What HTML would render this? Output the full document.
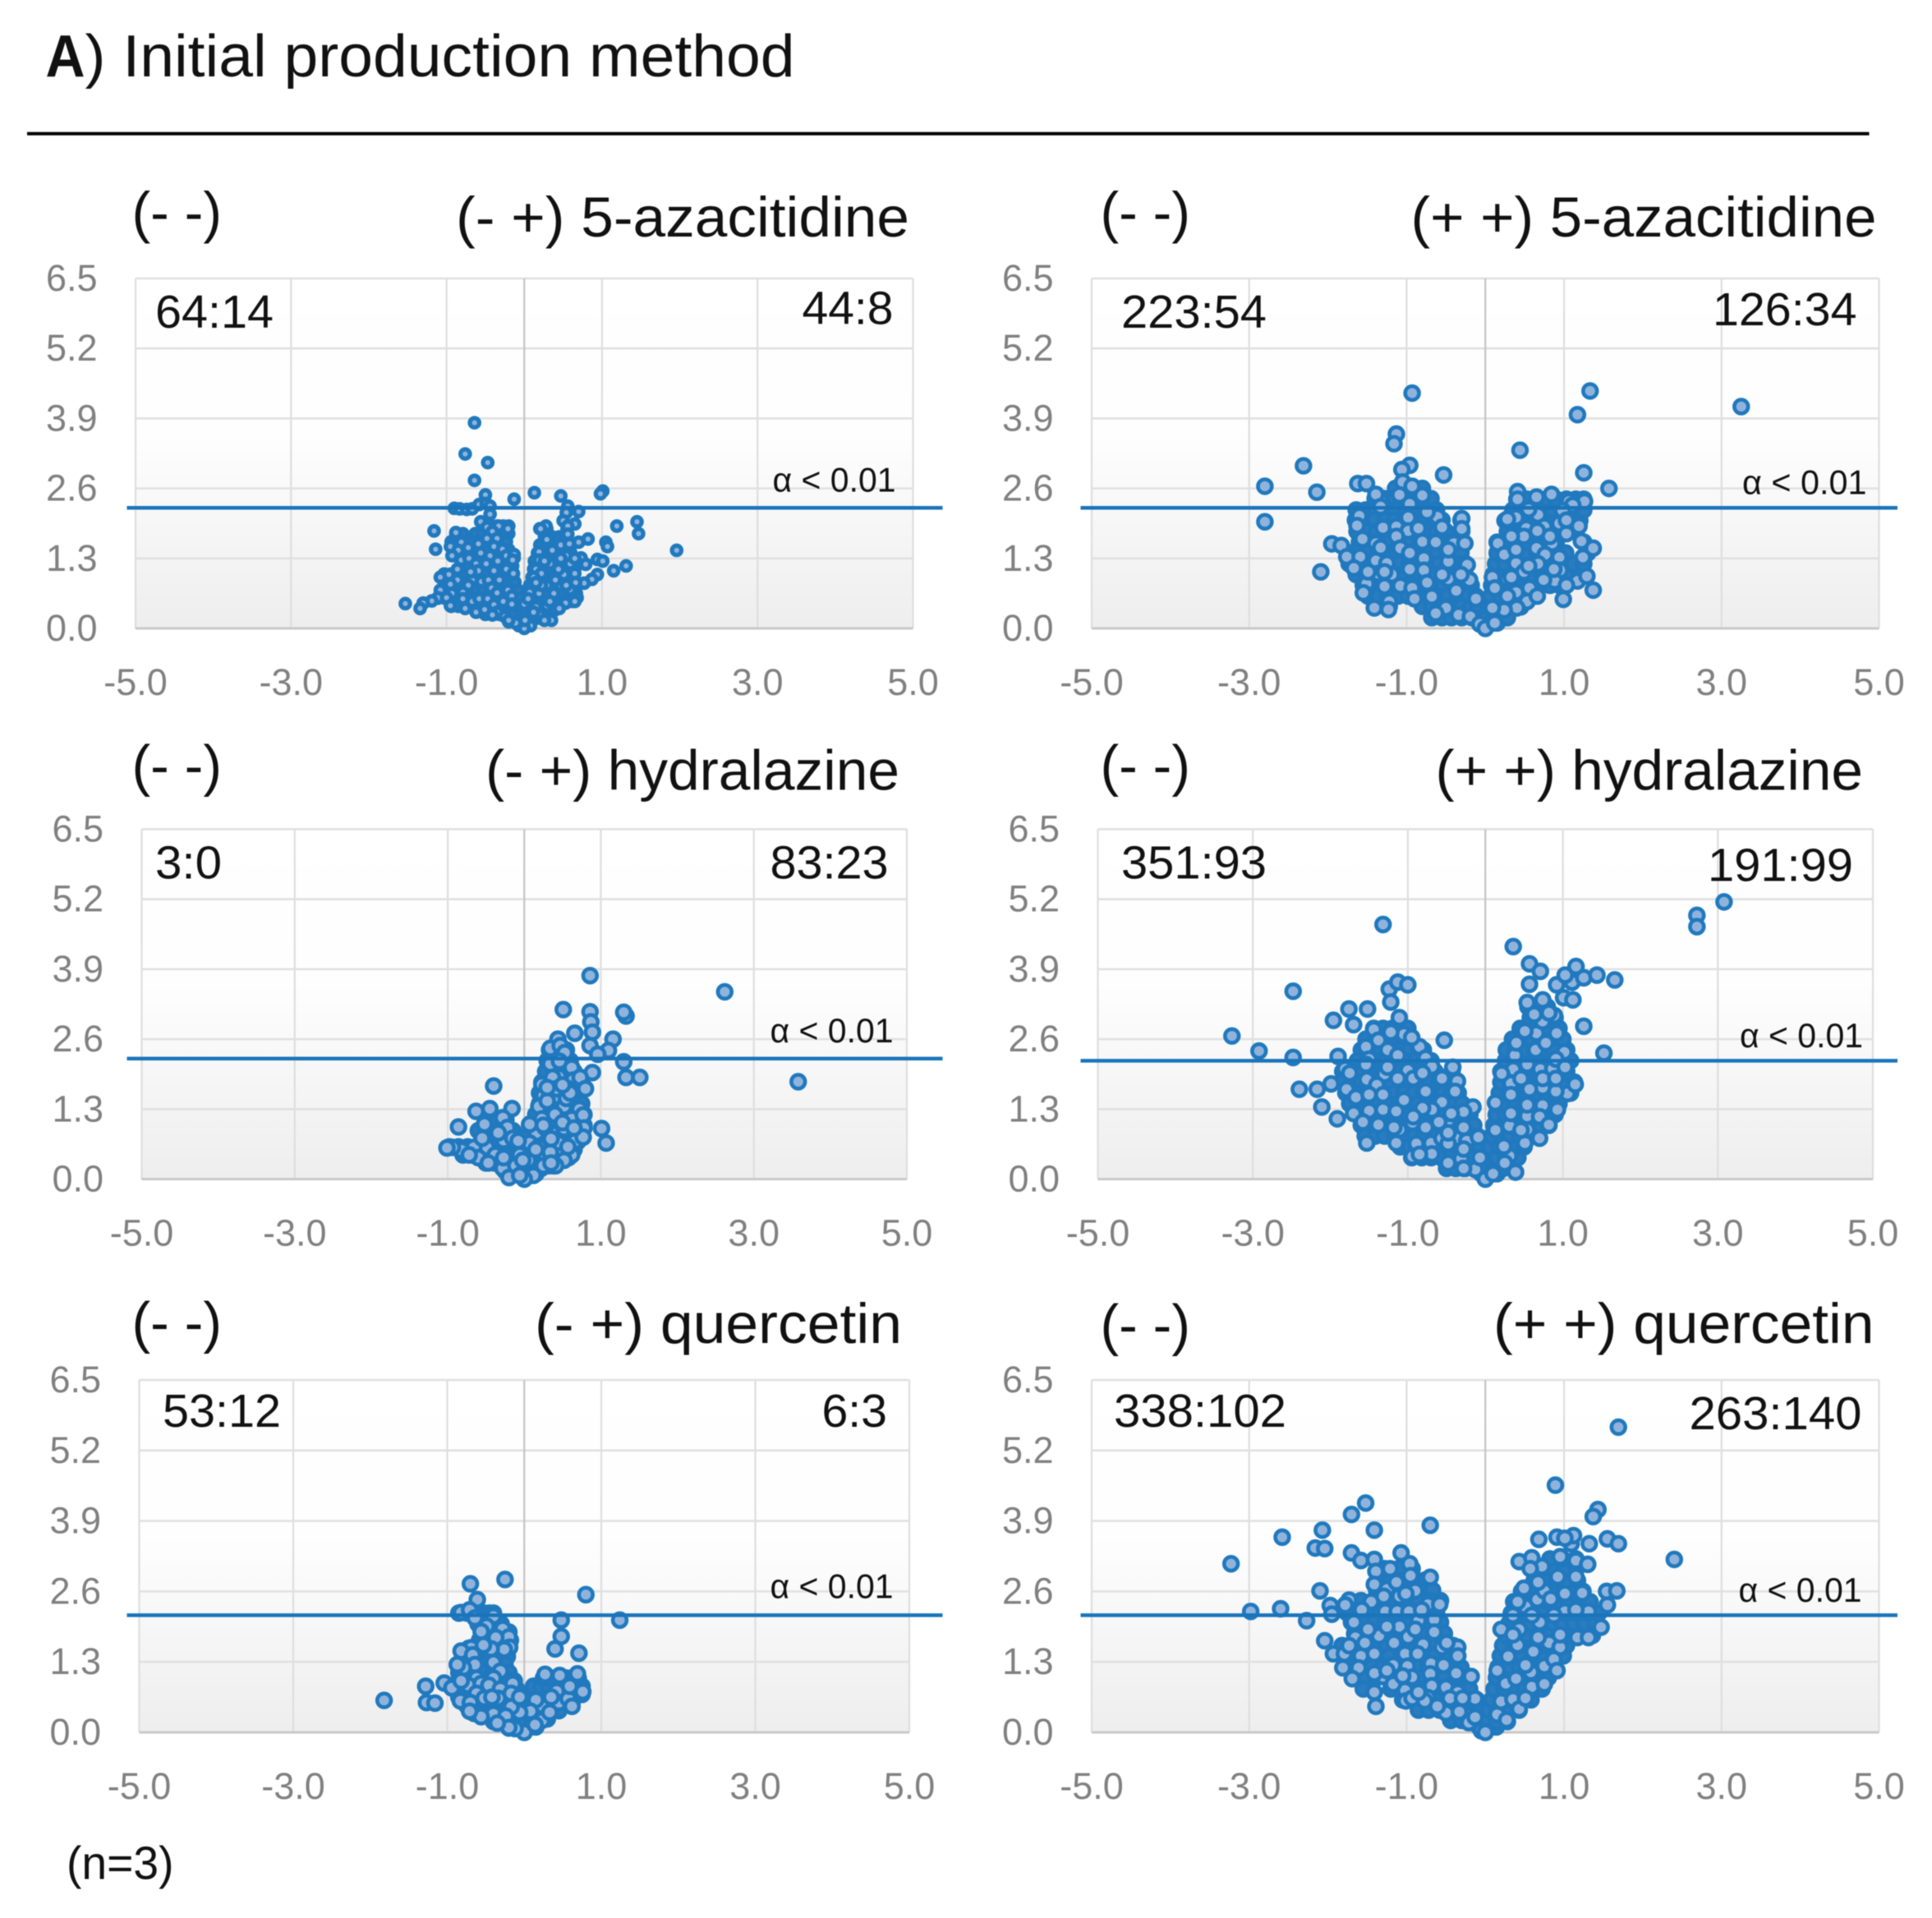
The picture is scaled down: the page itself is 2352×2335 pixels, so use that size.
<!DOCTYPE html>
<html lang="en">
<head>
<meta charset="utf-8">
<title>A) Initial production method – volcano plots</title>
<style>
html,body{margin:0;padding:0;background:#fff;}
svg{display:block;filter:blur(0.6px);}
text{font-family:"Liberation Sans",sans-serif;}
.head{font-size:46px;fill:#111;}
.count{font-size:38px;fill:#111;}
.alpha{font-size:28px;fill:#111;}
.tick{font-size:30px;fill:#808080;}
</style>
</head>
<body>
<svg id="figure" xmlns="http://www.w3.org/2000/svg" width="2352" height="2335" viewBox="0 0 1568 1556.67">
  <defs>
    <linearGradient id="plotBg" x1="0" y1="0" x2="0" y2="1">
      <stop offset="0" stop-color="#ffffff"/>
      <stop offset="0.45" stop-color="#fefefe"/>
      <stop offset="1" stop-color="#eeeeee"/>
    </linearGradient>
  </defs>
  <rect width="1568" height="1556.67" fill="#ffffff"/>

  <text x="37" y="62" font-size="48" font-weight="bold" fill="#111" textLength="32" lengthAdjust="spacingAndGlyphs">A</text>
  <text x="69" y="62" font-size="48" fill="#111" textLength="576" lengthAdjust="spacingAndGlyphs">) Initial production method</text>
  <line x1="22" y1="108.5" x2="1517" y2="108.5" stroke="#000" stroke-width="2.6"/>

  <g id="panel-0"></g>
  <g id="panel-1"></g>
  <g id="panel-2"></g>
  <g id="panel-3"></g>
  <g id="panel-4"></g>
  <g id="panel-5"></g>

  <g>
    <text class="head" x="107" y="188" textLength="73" lengthAdjust="spacingAndGlyphs">(- -)</text>
    <text class="head" x="370" y="192" textLength="368" lengthAdjust="spacingAndGlyphs">(- +) 5-azacitidine</text>
    <text class="count" x="126" y="266" textLength="96" lengthAdjust="spacingAndGlyphs">64:14</text>
    <text class="count" x="651" y="263" textLength="74" lengthAdjust="spacingAndGlyphs">44:8</text>
    <text class="alpha" x="627" y="399" textLength="100" lengthAdjust="spacingAndGlyphs">α &lt; 0.01</text>

    <text class="head" x="893" y="188" textLength="73" lengthAdjust="spacingAndGlyphs">(- -)</text>
    <text class="head" x="1145" y="192" textLength="378" lengthAdjust="spacingAndGlyphs">(+ +) 5-azacitidine</text>
    <text class="count" x="910" y="266" textLength="118" lengthAdjust="spacingAndGlyphs">223:54</text>
    <text class="count" x="1390" y="264" textLength="117" lengthAdjust="spacingAndGlyphs">126:34</text>
    <text class="alpha" x="1414" y="401" textLength="101" lengthAdjust="spacingAndGlyphs">α &lt; 0.01</text>

    <text class="head" x="107" y="637" textLength="73" lengthAdjust="spacingAndGlyphs">(- -)</text>
    <text class="head" x="394" y="641" textLength="336" lengthAdjust="spacingAndGlyphs">(- +) hydralazine</text>
    <text class="count" x="126" y="713" textLength="54" lengthAdjust="spacingAndGlyphs">3:0</text>
    <text class="count" x="625" y="713" textLength="96" lengthAdjust="spacingAndGlyphs">83:23</text>
    <text class="alpha" x="625" y="846" textLength="100" lengthAdjust="spacingAndGlyphs">α &lt; 0.01</text>

    <text class="head" x="893" y="637" textLength="73" lengthAdjust="spacingAndGlyphs">(- -)</text>
    <text class="head" x="1165" y="641" textLength="347" lengthAdjust="spacingAndGlyphs">(+ +) hydralazine</text>
    <text class="count" x="910" y="713" textLength="118" lengthAdjust="spacingAndGlyphs">351:93</text>
    <text class="count" x="1386" y="715" textLength="118" lengthAdjust="spacingAndGlyphs">191:99</text>
    <text class="alpha" x="1412" y="850" textLength="100" lengthAdjust="spacingAndGlyphs">α &lt; 0.01</text>

    <text class="head" x="107" y="1089" textLength="73" lengthAdjust="spacingAndGlyphs">(- -)</text>
    <text class="head" x="434" y="1090" textLength="298" lengthAdjust="spacingAndGlyphs">(- +) quercetin</text>
    <text class="count" x="132" y="1158" textLength="96" lengthAdjust="spacingAndGlyphs">53:12</text>
    <text class="count" x="667" y="1158" textLength="53" lengthAdjust="spacingAndGlyphs">6:3</text>
    <text class="alpha" x="625" y="1297" textLength="100" lengthAdjust="spacingAndGlyphs">α &lt; 0.01</text>

    <text class="head" x="893" y="1091" textLength="73" lengthAdjust="spacingAndGlyphs">(- -)</text>
    <text class="head" x="1212" y="1090" textLength="309" lengthAdjust="spacingAndGlyphs">(+ +) quercetin</text>
    <text class="count" x="904" y="1158" textLength="140" lengthAdjust="spacingAndGlyphs">338:102</text>
    <text class="count" x="1371" y="1160" textLength="140" lengthAdjust="spacingAndGlyphs">263:140</text>
    <text class="alpha" x="1411" y="1300" textLength="100" lengthAdjust="spacingAndGlyphs">α &lt; 0.01</text>

    <text class="count" x="54" y="1525" textLength="87" lengthAdjust="spacingAndGlyphs">(n=3)</text>
  </g>
</svg>

<script>
const xTickValues = [-5, -3, -1, 1, 3, 5];
const xTickLabels = ["-5.0", "-3.0", "-1.0", "1.0", "3.0", "5.0"];
const yTickValues = [0, 1.3, 2.6, 3.9, 5.2, 6.5];
const yTickLabels = ["0.0", "1.3", "2.6", "3.9", "5.2", "6.5"];
const thresholds = [2.24, 2.24, 2.24, 2.2, 2.16, 2.16];

/* Dense core of each volcano read row by row: [y, [x, x, ...]] */
const azaMinusRows = [
[1.9,[-.53,-.44,-.35,-.27,-.2]],
[1.76,[-.88,-.79,-.63,-.54,-.45,-.36,-.27,-.2]],
[1.61,[-.94,-.85,-.76,-.67,-.58,-.49,-.4,-.31,-.23]],
[1.46,[-.92,-.83,-.74,-.65,-.56,-.47,-.38,-.29,-.2]],
[1.31,[-.84,-.75,-.66,-.57,-.48,-.39,-.3,-.21,-.13]],
[1.16,[-.79,-.7,-.61,-.52,-.43,-.34,-.25,-.15]],
[1.01,[-1.03,-.94,-.85,-.76,-.67,-.58,-.49,-.4,-.31,-.22,-.14]],
[.86,[-1,-.91,-.82,-.73,-.64,-.55,-.46,-.37,-.28,-.19,-.12]],
[.71,[-1.07,-.98,-.89,-.8,-.71,-.62,-.53,-.44,-.35,-.26,-.17,-.08]],
[.56,[-1.11,-1.02,-.93,-.84,-.75,-.66,-.57,-.48,-.39,-.3,-.21,-.12,-.05]],
[.41,[-.94,-.85,-.76,-.67,-.58,-.49,-.4,-.31,-.22,-.13,-.04]],
[.26,[-.5,-.41,-.32,-.23,-.14,-.04]],
[.12,[-.2,-.12,-.04]],
[.05,[-.07,0,.08]],
[.19,[0,.09,.18,.29]],
[.34,[.01,.1,.19,.28,.39]],
[.5,[.02,.11,.2,.29,.38,.47,.56,.62]],
[.65,[.04,.13,.22,.31,.4,.49,.58,.67]],
[.8,[.07,.16,.25,.34,.43,.52,.61,.68]],
[.95,[.1,.19,.28,.37,.46,.55,.64]],
[1.1,[.12,.21,.3,.39,.48,.57,.65]],
[1.25,[.13,.22,.31,.4,.49,.6]],
[1.4,[.17,.26,.35,.44,.53,.6]],
[1.55,[.2,.29,.38,.47,.6]],
[1.7,[.26,.36,.45,.52]],
[1.85,[.2,.29,.55]]
];

const azaPlusRows = [
[2.6,[-1.14,-1.02,-.9,-.8]],
[2.41,[-1.4,-1.28,-1.15,-1.03,-.9,-.78,-.69]],
[2.2,[-1.64,-1.52,-1.39,-1.27,-1.14,-1.01,-.89,-.76,-.62]],
[2.01,[-1.65,-1.53,-1.4,-1.27,-1.15,-1.02,-.9,-.77,-.65,-.55,-.31]],
[1.8,[-1.63,-1.51,-1.38,-1.25,-1.13,-1,-.88,-.75,-.62,-.5,-.3]],
[1.6,[-1.6,-1.47,-1.35,-1.22,-1.09,-.97,-.84,-.71,-.59,-.46,-.35]],
[1.41,[-1.75,-1.62,-1.5,-1.37,-1.24,-1.12,-.99,-.86,-.74,-.61,-.48,-.31]],
[1.2,[-1.73,-1.61,-1.48,-1.35,-1.23,-1.1,-.97,-.85,-.72,-.59,-.47,-.35,-.25]],
[1,[-1.64,-1.52,-1.39,-1.26,-1.14,-1.01,-.88,-.76,-.63,-.5,-.38,-.26]],
[.8,[-1.55,-1.42,-1.3,-1.17,-1.04,-.92,-.79,-.66,-.54,-.41,-.29,-.18]],
[.6,[-1.49,-1.36,-1.24,-1.11,-.98,-.86,-.73,-.6,-.48,-.35,-.23,-.12]],
[.41,[-1.22,-.8,-.68,-.55,-.43,-.3,-.18,-.1]],
[.2,[-.68,-.55,-.43,-.3,-.17,-.05]],
[.1,[-.05,.06,.15]],
[.2,[0,.11,.22,.28]],
[.4,[.04,.15,.27,.39,.45]],
[.6,[.07,.19,.31,.43,.55,.6]],
[.8,[.08,.2,.33,.45,.57,.7,.82,.94,1]],
[1,[.1,.23,.35,.47,.6,.72,.84,.97,1.09,1.2]],
[1.2,[.13,.25,.38,.5,.62,.75,.87,.99,1.12,1.25]],
[1.4,[.15,.28,.4,.52,.65,.77,.89,1.02,1.3]],
[1.6,[.15,.28,.41,.53,.66,.78,.9,1.25]],
[1.8,[.28,.41,.53,.66,.78,.91,1.03,1.15]],
[2,[.25,.38,.5,.63,.75,.88,1,1.12,1.2]],
[2.2,[.35,.47,.6,.72,.85,.97,1.1,1.25]],
[2.4,[.4,.53,.65,.78,.9,1.03,1.15,1.25]]
];

const hydMinusRows = [
[1.1,[-.35,-.24]],
[.9,[-.6,-.48,-.36,-.25,-.15]],
[.75,[-.55,-.43,-.32,-.22,-.12]],
[.6,[-.98,-.86,-.74,-.62,-.5,-.39,-.28,-.17,-.07]],
[.45,[-.8,-.68,-.57,-.46,-.35,-.24,-.13,-.05]],
[.3,[-.5,-.39,-.28,-.17,-.06,-.03]],
[.15,[-.25,-.14,-.03]],
[.1,[-.05,.06,.15]],
[.25,[0,.1,.21,.32,.38]],
[.4,[.02,.13,.24,.35,.46,.58]],
[.55,[.03,.14,.25,.36,.47,.58,.65]],
[.7,[.05,.16,.27,.38,.49,.6,.7]],
[.85,[.06,.17,.28,.39,.5,.61,.75]],
[1,[.07,.18,.29,.4,.51,.62,.78]],
[1.2,[.15,.26,.37,.48,.59,.78]],
[1.4,[.2,.31,.42,.53,.64,.75]],
[1.6,[.2,.31,.42,.53,.65]],
[1.8,[.23,.34,.45,.56,.67,.75]],
[2,[.28,.39,.5,.6,.65]],
[2.2,[.3,.41,.52,.6]],
[2.4,[.33,.44,.55]]
];

const hydPlusRows = [
[2.8,[-1.44,-1.32,-1.2,-1.08,-1]],
[2.6,[-1.54,-1.42,-1.3,-1.18,-1.06,-.95]],
[2.4,[-1.6,-1.48,-1.35,-1.23,-1.1,-.98,-.86,-.8]],
[2.2,[-1.65,-1.53,-1.4,-1.28,-1.15,-1.03,-.9,-.79,-.7]],
[2,[-1.84,-1.72,-1.59,-1.46,-1.34,-1.21,-1.09,-.96,-.84,-.72,-.65,-.43]],
[1.8,[-1.85,-1.72,-1.6,-1.47,-1.35,-1.22,-1.1,-.97,-.85,-.72,-.6,-.5,-.4]],
[1.6,[-1.8,-1.67,-1.55,-1.42,-1.3,-1.17,-1.05,-.92,-.8,-.67,-.55,-.44,-.35]],
[1.4,[-1.75,-1.62,-1.5,-1.37,-1.25,-1.12,-1,-.87,-.75,-.62,-.5,-.4,-.3]],
[1.2,[-1.65,-1.53,-1.4,-1.28,-1.15,-1.03,-.9,-.78,-.65,-.53,-.42,-.3,-.2]],
[1,[-1.6,-1.47,-1.35,-1.22,-1.1,-.97,-.85,-.72,-.6,-.47,-.35,-.25,-.15]],
[.8,[-1.55,-1.42,-1.3,-1.17,-1.05,-.92,-.8,-.67,-.55,-.42,-.3,-.2,-.1]],
[.6,[-1.1,-.97,-.85,-.72,-.6,-.47,-.35,-.22,-.14,-.07]],
[.4,[-.95,-.82,-.7,-.57,-.45,-.32,-.2,-.05]],
[.2,[-.5,-.38,-.26,-.14,-.03]],
[.1,[-.05,.06,.15]],
[.2,[0,.11,.23,.35]],
[.4,[.03,.15,.27,.42]],
[.6,[.06,.18,.3,.42,.5]],
[.8,[.08,.2,.32,.44,.6]],
[1,[.11,.23,.35,.47,.59,.71,.82]],
[1.2,[.14,.26,.38,.5,.62,.74,.9]],
[1.4,[.14,.26,.38,.5,.62,.74,.86,.95]],
[1.6,[.18,.3,.42,.54,.66,.78,.9,1.1]],
[1.8,[.2,.32,.44,.56,.68,.8,.92,1.04,1.15]],
[2,[.2,.32,.44,.56,.68,.8,.92,1.05]],
[2.2,[.26,.38,.5,.62,.74,.86,.98,1.1]],
[2.4,[.27,.39,.51,.63,.75,.87,1.05]],
[2.6,[.35,.47,.59,.71,.83,1]],
[2.8,[.45,.57,.69,.81,.95]],
[3,[.58,.7,.82,.9]],
[3.2,[.55,.67,.8]]
];

const querMinusRows = [
[2.2,[-.85,-.74,-.63,-.52,-.45,-.4]],
[2,[-.6,-.49,-.38,-.3]],
[1.85,[-.5,-.4,-.3,-.2]],
[1.7,[-.58,-.47,-.36,-.25,-.18]],
[1.55,[-.72,-.61,-.5,-.39,-.28,-.2]],
[1.4,[-.78,-.67,-.56,-.45,-.34,-.22]],
[1.25,[-.85,-.74,-.63,-.52,-.41,-.3,-.25]],
[1.1,[-.85,-.74,-.63,-.52,-.41,-.3,-.2]],
[.95,[-.85,-.74,-.63,-.52,-.41,-.3,-.2,-.13]],
[.8,[-.85,-.74,-.63,-.52,-.41,-.3,-.2,-.1]],
[.65,[-.85,-.74,-.63,-.52,-.41,-.3,-.2,-.12,-.06]],
[.5,[-.75,-.64,-.53,-.42,-.31,-.2,-.1,-.04]],
[.35,[-.65,-.54,-.43,-.32,-.21,-.1,-.03]],
[.2,[-.4,-.29,-.18,-.08,-.02]],
[.08,[-.2,-.1,0]],
[.1,[0,.08,.15]],
[.25,[0,.1,.2,.3]],
[.4,[.03,.13,.23,.33,.45]],
[.55,[.05,.15,.25,.35,.45,.55,.62]],
[.7,[.08,.18,.28,.38,.48,.58,.68,.75]],
[.85,[.12,.22,.32,.42,.52,.62,.75]],
[1,[.25,.35,.45,.55,.7]]
];

const querPlusRows = [
[3.02,[-1.28,-1.1,-.93]],
[2.81,[-1.36,-1.2,-1.04,-.88,-.76]],
[2.62,[-1.38,-1.22,-1.08,-.93,-.8,-.67]],
[2.43,[-1.72,-1.58,-1.42,-1.27,-1.14,-.99,-.85,-.7,-.57]],
[2.21,[-1.76,-1.61,-1.47,-1.33,-1.18,-1.05,-.9,-.76,-.62]],
[2.03,[-1.7,-1.55,-1.41,-1.28,-1.13,-.98,-.84,-.71,-.57]],
[1.82,[-1.66,-1.52,-1.37,-1.22,-1.08,-.95,-.8,-.66,-.52]],
[1.6,[-1.82,-1.68,-1.53,-1.4,-1.25,-1.1,-.96,-.82,-.68,-.54,-.41]],
[1.41,[-1.8,-1.66,-1.5,-1.37,-1.22,-1.07,-.93,-.8,-.65,-.5,-.36]],
[1.2,[-1.72,-1.58,-1.44,-1.3,-1.15,-1,-.87,-.73,-.59,-.45,-.31]],
[1.01,[-1.66,-1.52,-1.38,-1.23,-1.09,-.95,-.8,-.66,-.52,-.37,-.22]],
[.8,[-1.55,-1.2,-1.06,-.92,-.78,-.63,-.5,-.35,-.2]],
[.6,[-1.05,-.9,-.76,-.62,-.48,-.34,-.2,-.11]],
[.41,[-.85,-.72,-.58,-.44,-.3,-.17,-.08]],
[.22,[-.44,-.3,-.17,-.05]],
[.1,[-.08,.04,.14]],
[.2,[.02,.14,.28]],
[.41,[.04,.16,.29,.43]],
[.6,[.08,.2,.33,.46,.58]],
[.8,[.11,.24,.37,.5,.62,.72]],
[1.01,[.14,.27,.41,.54,.67,.8]],
[1.2,[.16,.3,.44,.58,.72,.88]],
[1.41,[.19,.33,.47,.6,.74,.87,.99]],
[1.6,[.22,.36,.5,.63,.77,.9,1.03]],
[1.79,[.26,.4,.53,.67,.8,.94,1.08,1.22,1.36]],
[2.01,[.3,.44,.58,.71,.85,.98,1.12,1.26,1.4]],
[2.2,[.33,.47,.6,.74,.88,1.02,1.16,1.3,1.44]],
[2.41,[.36,.5,.64,.78,.91,1.05,1.19,1.33]],
[2.6,[.46,.6,.73,.87,1,1.14,1.24]],
[2.8,[.62,.76,.9,1.03,1.17]],
[3.01,[.72,.86,1,1.15]],
[3.2,[.82,.98,1.15]]
];

/* Individually read points (outliers and visible marker centres): [x, y] */
const azaMinusPoints = [
[-.64,3.82],[-.76,3.24],[-.47,3.08],[-.64,2.75],[-.5,2.48],[-.13,2.4],[.13,2.52],[.47,2.46],[1.01,2.55],[.98,2.5],
[-.9,2.23],[-.83,2.22],[-.74,2.21],[-.67,2.22],[-.58,2.3],[-.49,2.32],[-.44,2.27],[-.44,2.12],[.56,2.27],[.7,2.17],
[.54,2.15],[.5,2],[.65,1.94],[.56,1.9],[.56,1.75],[1.19,1.9],[1.45,1.98],[1.47,1.76],[1.96,1.45],[1.05,1.6],[1.07,1.52],
[.82,1.66],[.7,1.6],[.73,1.31],[.94,1.28],[1.01,1.25],[.79,1.19],[1.31,1.16],[1.15,1.07],[.94,1],[.87,.91],[.77,.84],
[.68,.57],[.65,.5],[.28,1.9],[.21,1.85],[.29,1.65],[.47,1.55],[.58,1.57],[.19,1.42],[.19,1.27],[.42,1.37],[.59,1.2],
[.33,1.2],[.15,1.1],[.22,1.02],[.51,1],[.65,1.02],[.12,.95],[.29,.8],[.47,.8],[.66,.85],[.59,.72],[.07,.67],[.19,.65],
[.38,.65],[.53,.47],[.29,.42],[.15,.4],[.45,.37],[0,.45],[.19,.25],[.35,.15],[.08,.05],[0,0],[-.09,.1],[.01,.15],[.26,.15],
[.12,.3],[.05,.55],[.33,.5],[.44,1.1],[.54,.8],[.4,.9],[.22,.8],[.54,1.35],[.65,1.3],[.15,.85],[.26,1.25],[.36,1.45],[.47,1.3],
[-1.16,1.81],[-1.14,1.47],[-.56,1.98],[-.48,1.88],[-.33,1.9],[-.21,1.85],[-.41,1.8],[-.88,1.78],[-.81,1.6],[-.72,1.5],
[-.59,1.57],[-.48,1.67],[-.35,1.67],[-.39,1.52],[-.28,1.47],[-.95,1.52],[-.85,1.45],[-.93,1.35],[-.81,1.27],[-.71,1.3],
[-.56,1.4],[-.44,1.35],[-.23,1.35],[-.13,1.37],[-.15,1.27],[-.62,1.2],[-.49,1.2],[-.34,1.25],[-.72,1.12],[-.59,1.07],
[-.39,1.07],[-.23,1.1],[-.14,1.02],[-.97,1],[-1.08,.95],[-.67,.9],[-.55,.87],[-.46,.9],[-.32,.9],[-.86,.9],[-.95,.82],
[-.72,.8],[-.42,.75],[-.21,.71],[-1.08,.71],[-.93,.65],[-.79,.67],[-.35,.66],[-.16,.6],[-1.11,.57],[-1,.57],[-.79,.55],
[-.67,.5],[-.58,.55],[-.47,.55],[-.27,.5],[-.39,.44],[-.16,.45],[-.95,.42],[-1.19,.51],[-1.3,.47],[-1.34,.37],[-1.53,.46],
[-.62,.3],[-.35,.3],[-.76,.37],[-.51,.35],[-.25,.22],[-.11,.1],[-.2,.15],[-.41,.25],[-.69,1.05],[-.86,1.1]
];

const azaPlusPoints = [
[-.93,4.37],[1.33,4.41],[1.17,3.97],[3.25,4.12],[-1.13,3.61],[-1.16,3.43],[.44,3.31],[-.96,3.03],[-1.06,2.95],[-2.31,3.02],
[-.53,2.85],[1.25,2.89],[-2.8,2.64],[-2.14,2.53],[1.57,2.6],[-2.8,1.98],[-1.62,2.69],[-1.51,2.69],[-1.05,2.72],[-1.09,2.48],
[-.93,2.64],[-.8,2.47],[-1.33,2.36],[-1.39,2.49],[.41,2.54],[.41,2.4],[.65,2.44],[.84,2.49],[1.06,2.36],[1.26,2.36],[1.11,2.29],
[-.96,2.31],[-1.6,2.09],[-1.63,1.91],[-1.33,2.26],[-.98,2.06],[-.61,2.07],[-.74,2.16],[-.3,2.04],[-.3,1.85],[-.55,1.88],[-1.3,1.87],
[-1.13,1.89],[-.98,1.81],[-1.56,1.66],[-1.39,1.58],[-1.13,1.71],[-1.08,1.49],[-.8,1.61],[-.4,1.58],[-.26,1.58],[-1.95,1.57],[-1.83,1.54],
[-1.76,1.33],[-1.59,1.33],[-1.39,1.26],[-1.25,1.21],[-.78,1.3],[-.47,1.24],[-1.67,1.12],[-.78,1.08],[-1.36,1.02],[-1.19,1],[-2.09,1.05],
[-.47,.92],[-.23,1.18],[-.2,.9],[-1.51,.83],[-1.28,.78],[-1.08,.79],[-.93,.75],[-1.55,.66],[-1.22,.5],[-.68,.59],[-1.41,.38],[-1.23,.35],
[-.5,.38],[-.9,.55],[-.63,.28],[-.34,.25],[-.19,.22],[-.07,.08],[0,0],[-.12,.55],[-.37,.7],[-.55,1],[-.96,1.4],[-.63,1.6],[-.85,1.86],
[-.47,1.46],[-1.33,1.5],[-1.28,1.05],[-1.49,1.05],[-.74,.85],[-.31,1],[-.96,1.1],[.39,2.06],[.28,2.03],[.67,2.11],[.94,1.95],[.75,1.89],
[1.19,1.9],[.98,2.19],[.52,1.86],[.49,1.71],[.16,1.58],[1.22,1.62],[1.37,1.49],[.85,1.58],[.65,1.49],[1.24,1.32],[.24,1.37],[.76,1.37],
[.94,1.32],[.39,1.21],[.67,1.2],[.95,1.08],[.09,.95],[.28,.92],[.49,1.05],[.88,.88],[1.17,.88],[1.29,.97],[1.37,.71],[.56,.75],[.39,.67],
[.99,.54],[.53,.5],[.4,.38],[.24,.34],[.09,.38],[.12,.1],[.12,.75],[.39,1.46],[.55,1.16],[.74,.9],[.82,1.71],[1.03,1.76],[1.03,2.01],
[.87,1.1],[.33,.95],[.28,.6],[.66,.6],[1.03,.8],[.33,1.71],[.66,1.81],[.55,2.21]
];

const hydMinusPoints = [
[.86,3.78],[2.62,3.48],[3.58,1.81],[.51,3.15],[.86,3.11],[.87,2.92],[.89,2.73],[1.33,3.03],[1.3,3.1],[.66,2.71],[1.16,2.6],[.86,2.48],
[1.1,2.39],[.96,2.32],[1.3,2.18],[.89,1.98],[1.33,1.89],[1.51,1.89],[.44,2.6],[.34,2.43],[.47,2.48],[.53,2.35],[.34,2.14],[.46,2.19],
[.62,2.07],[.45,1.9],[.64,1.84],[.73,1.89],[.8,1.68],[.23,1.76],[.57,1.68],[.37,1.89],[.25,1.55],[.45,1.53],[.19,1.35],[.52,1.35],
[.72,1.3],[.36,1.22],[.23,1.12],[.62,1.12],[.77,1.19],[.16,.86],[.41,.84],[.52,.94],[.78,.95],[.07,1.02],[.27,.96],[1.01,.94],[1.07,.67],
[.67,.71],[.77,.78],[.45,.67],[.07,.67],[.19,.6],[.62,.45],[.46,.43],[.28,.43],[.52,.35],[.22,.2],[.12,.07],[0,0],[.41,.25],[.34,.5],
[.57,.6],[.05,.35],[-.06,.45],[-.15,.12],[-.28,.2],[-.27,.72],[-.49,.59],[-.66,.59],[-.82,.54],[-.94,.59],[-1.01,.58],[-.86,.97],[-.63,1.26],
[-.45,1.31],[-.16,1.31],[-.4,1.73],[-.28,1.14],[-.52,1.02],[-.22,.96],[-.15,.76],[-.55,.76],[-.34,.86],[-.38,.45],[-.6,.4],[-.72,.45],
[-.47,.3],[-.27,.4],[-.11,.25],[-.2,.03],[-.06,.07],[-.02,.35],[-.08,.71],[.3,1.45],[.4,1.2],[.55,1.5],[.25,1],[.35,.75],[.5,1.05],[.65,.95],
[.15,.55],[.25,.25],[.35,.3],[.6,1.6],[.42,1.68],[.3,1.7],[.5,1.75]
];

const hydPlusPoints = [
[3.08,5.15],[2.73,4.9],[2.73,4.69],[-1.32,4.73],[.36,4.32],[.57,4],[.71,3.86],[.57,3.62],[-2.48,3.49],[-3.27,2.66],[-2.92,2.38],[-2.48,2.26],
[-1.9,2.28],[-2.4,1.67],[-2.17,1.67],[-1.99,1.77],[-2.11,1.34],[-1.91,1.12],[-1.96,2.95],[-1.76,3.16],[-1.52,3.16],[-1.7,2.87],[-1.24,3.53],
[-1.13,3.66],[-1,3.61],[-1.22,3.29],[-1.11,3],[-1.44,2.78],[-1.38,2.58],[-1.05,2.69],[-1.22,2.73],[-1.54,2.46],[-1.26,2.4],[-.85,2.46],[-.53,2.58],
[-.95,2.63],[-.77,2.25],[-1.13,2.3],[-1.81,2.05],[-.69,2.09],[-.42,2.08],[-1.3,1.95],[-1,2.02],[-1.13,1.87],[-1.53,1.85],[-.56,1.87],[-.36,1.82],
[-1.4,1.75],[-1.79,1.67],[-.77,1.63],[-.39,1.63],[-1.32,1.57],[-1.67,1.52],[-1.05,1.47],[-.56,1.43],[-.16,1.34],[-1.32,1.29],[-1.15,1.26],[-.69,1.29],
[-.28,1.25],[-1.7,1.22],[-.48,1.09],[-.94,1.05],[-1.11,.92],[-1.53,.67],[-1.15,.67],[-.7,.67],[-.56,.76],[-.39,.76],[-.24,.71],[-.09,.78],[-.69,.47],
[-.94,.42],[-.31,.38],[-.13,.18],[0,0],[.1,.1],[.39,.13],[.31,.43],[.51,.67],[.24,.61],[.54,.92],[.31,.99],[.54,1.17],[.74,1.37],[.13,1.42],[.54,1.38],
[.93,1.29],[1.06,1.59],[1.16,1.76],[.91,1.63],[.74,1.7],[.57,1.67],[.33,1.78],[.36,2.04],[.21,1.96],[.71,2.04],[.87,2.05],[.38,2.3],[.4,2.53],[.65,2.4],
[1.02,2.36],[1.53,2.34],[1.27,2.84],[.92,2.71],[.66,2.71],[.51,2.75],[.74,2.93],[.89,3.04],[.63,3.06],[.54,3.28],[.74,3.33],[1.01,3.37],[1.13,3.33],
[.92,3.61],[1.12,3.66],[1.27,3.74],[1.44,3.79],[1.67,3.7],[1.17,3.95],[1.03,3.79],[.82,3.09],[.78,2.53],[.54,2.13],[.91,2.23],[1.03,2.08],[.74,1.87],
[.46,1.87],[.91,1.87],[.33,1.57],[.7,1.16],[.82,1.01],[.7,.76],[.13,.91],[.33,1.22],[.46,.91],[.25,.3],[-1.5,2.23],[-1.75,1.97],[-.93,1.87],[-.81,1.97],
[-.81,1.32],[-1.5,1.27],[-1.38,1.01],[-1.58,1.06],[-1.18,.96],[-.77,.96],[-.44,1.22],[-.28,.96],[-.89,.66],[-.48,.66],[-.85,.46],[-.48,.3],[-.28,.2],
[-.07,.4],[-.28,.56],[-.48,.86],[-1.26,2.08],[-1.5,1.57],[-.93,1.16],[-.6,1.06],[-1.54,2.13]
];

const querMinusPoints = [
[-1.82,.59],[-1.28,.85],[-1.27,.55],[-1.16,.54],[-1.04,.91],[-.94,.82],[-.83,.58],[-.7,2.74],[-.25,2.82],[-.61,2.45],[.8,2.54],[1.24,2.07],[.48,2.07],
[.48,1.77],[.4,1.54],[.71,1.46],[.69,1.08],[.27,1.07],[.46,1.05],[.76,.75],[.42,.76],[.24,.49],[.45,.55],[.57,.62],[.62,.48],[.23,.22],[.33,.37],[.15,.6],
[.08,.39],[0,0],[-.12,.07],[-.06,.37],[.14,.14],[.35,.65],[.59,.85],[-.82,2.21],[-.71,2.26],[-.64,2.11],[-.4,2.14],[-.49,1.96],[-.28,1.91],[-.2,1.76],
[-.56,1.86],[-.37,1.75],[-.19,1.57],[-.26,1.53],[-.43,1.54],[-.69,1.56],[-.82,1.5],[-.67,1.43],[-.53,1.61],[-.64,1.25],[-.4,1.29],[-.79,1.19],[-.87,1.25],
[-.31,1.13],[-.62,1],[-.4,1],[-.15,.9],[-.73,.87],[-.56,.9],[-.46,.87],[-.31,.8],[-.82,.95],[-.62,.72],[-.52,.63],[-.34,.63],[-.17,.72],[-.7,.55],[-.17,.47],
[-.4,.34],[-.24,.3],[-.56,.29],[-.71,.39],[-.06,.65],[-.42,.65],[-.2,.09],[-.35,.17]
];

const querPlusPoints = [
[1.69,5.63],[.89,4.56],[1.43,4.11],[1.37,3.98],[-1.52,4.23],[-1.7,4.02],[-2.07,3.73],[-1.41,3.73],[-.7,3.82],[-2.58,3.6],[-2.16,3.4],[-2.04,3.39],[-3.23,3.11],
[2.4,3.19],[-1.7,3.31],[-1.58,3.17],[-1.41,3.19],[-1.07,3.31],[-1.21,3.02],[-.96,3.11],[-.95,2.89],[-.7,2.86],[-1.39,2.97],[-1.41,2.73],[-1.25,2.64],[-1.13,2.77],
[-2.1,2.61],[-2.6,2.28],[-2.98,2.23],[-2.27,2.06],[-1.97,2.34],[-1.95,2.18],[-1.73,2.44],[-1.78,2.35],[-1.45,2.41],[-1.67,2.03],[-1.27,2.23],[-1.12,2.23],[-.97,2.23],
[-.89,2.61],[-.73,2.36],[-.58,2.36],[-.65,2.08],[-1.09,1.95],[-.65,1.85],[-1.35,1.78],[-.98,1.76],[-2.04,1.69],[-1.93,1.45],[-1.79,1.45],[-1.16,1.65],[-1.58,1.41],
[-1.41,1.45],[-.79,1.62],[-.55,1.57],[-.35,1.57],[-.35,1.41],[-1.02,1.45],[-.86,1.45],[-1.61,1.19],[-.99,1.22],[-.69,1.27],[-1.69,.99],[-1.3,1.03],[-.93,1.02],[-.7,1.08],
[-.18,1.03],[-.68,.86],[-.5,.83],[-1.41,.74],[-1.02,.78],[-.35,.74],[-1.39,.48],[-.73,.64],[-.13,.62],[-1.01,.58],[-.5,.36],[-.25,.32],[-.05,.03],[0,0],[.15,.33],[.2,.57],
[.35,.61],[.26,.9],[.58,1.11],[.29,1.4],[.75,1.22],[.61,1.49],[.41,1.61],[.81,1.65],[.95,1.57],[.2,1.9],[.69,2.03],[.43,1.9],[.51,2.32],[1.01,2.23],[1.17,1.75],[1.31,1.75],
[1.47,1.94],[1.31,2.23],[1.55,2.35],[1.54,2.6],[1.67,2.61],[1.23,2.57],[.66,2.45],[.41,2.41],[.75,2.61],[.49,2.66],[.92,2.87],[1.15,2.87],[.72,3.06],[.43,3.15],[.59,3.22],
[.95,3.24],[1.15,3.17],[1.3,3.1],[.68,3.56],[.91,3.6],[1.09,3.48],[1.12,3.63],[1.32,3.48],[1.55,3.57],[1.69,3.48],[1.01,3.58],[.57,3.02],[.67,2.77],[.83,2.46],[1.15,2.26],
[1.01,2.56],[.87,2.16],[.67,1.75],[.95,1.8],[.59,2.16],[.35,2.16],[.35,1.8],[.87,1.35],[.51,1.24],[.59,.84],[.75,.89],[.39,.99],[.15,1.14],[.43,.43],[.27,.23],[.51,.63],[.91,1.14],
[-1.65,1.75],[-1.49,1.9],[-1.25,1.95],[-.85,2.06],[-1.57,2.26],[-1.53,1.65],[-1.73,1.6],[-1.81,1.19],[-1.41,1.09],[-1.17,.89],[-.93,.63],[-1.17,1.24],[-.53,1.24],[-.37,1.09],
[-.45,.63],[-.61,.48],[-.33,.38],[-.21,.18],[-.29,.63],[-.13,.28],[-.77,.58],[-1.25,1.14],[-1.05,1.04],[-.85,.74],[-.49,1.65],[-.89,1.9],[-.81,2.26],[-1.09,2.51],[-1.29,2.51],[-1.01,2.56]
];

const panelRows = [azaMinusRows, azaPlusRows, hydMinusRows, hydPlusRows, querMinusRows, querPlusRows];
const panelPoints = [azaMinusPoints, azaPlusPoints, hydMinusPoints, hydPlusPoints, querMinusPoints, querPlusPoints];

/* Layout only: frame of each plot in figure units, and marker dimensions. */
const frames = [
  {l:110, r:741,  t:226,  b:510,  lineL:103, lineR:765,  dotR:3.8, dotW:3.5},
  {l:886, r:1525, t:226,  b:510,  lineL:877, lineR:1540, dotR:5.6, dotW:3.1},
  {l:115, r:736,  t:673,  b:957,  lineL:103, lineR:765,  dotR:5.6, dotW:3.1},
  {l:891, r:1520, t:673,  b:957,  lineL:877, lineR:1540, dotR:5.6, dotW:3.1},
  {l:113, r:738,  t:1120, b:1406, lineL:103, lineR:765,  dotR:5.6, dotW:3.1},
  {l:886, r:1525, t:1120, b:1406, lineL:877, lineR:1540, dotR:5.6, dotW:3.1}
];

const SVG_NS = "http://www.w3.org/2000/svg";
function make(tag, attrs, parent) {
  const el = document.createElementNS(SVG_NS, tag);
  for (const k in attrs) el.setAttribute(k, attrs[k]);
  parent.appendChild(el);
  return el;
}

frames.forEach(function (f, i) {
  const g = document.getElementById("panel-" + i);
  const sx = function (v) { return f.l + (v + 5) / 10 * (f.r - f.l); };
  const sy = function (v) { return f.b - v / 6.5 * (f.b - f.t); };

  const bg = make("rect", {x: f.l, y: f.t, width: f.r - f.l, height: f.b - f.t, fill: "url(#plotBg)"}, g);
  
  

  xTickValues.forEach(function (v, k) {
    const grid = make("line", {x1: sx(v), x2: sx(v), y1: f.t, y2: f.b, stroke: "#dedede", "stroke-width": 1.5}, g);
    
    
    const label = make("text", {x: sx(v), y: f.b + 54, "text-anchor": "middle", "class": "tick"}, g);
    label.textContent = xTickLabels[k];
    
    
  });

  yTickValues.forEach(function (v, k) {
    const isBase = v === 0;
    const grid = make("line", {x1: f.l, x2: f.r, y1: sy(v), y2: sy(v), stroke: isBase ? "#c9c9c9" : "#e0e0e0", "stroke-width": isBase ? 2 : 1.7}, g);
    
    
    const label = make("text", {x: f.l - 31, y: sy(v) + 10, "text-anchor": "end", "class": "tick"}, g);
    label.textContent = yTickLabels[k];
    
    
  });

  const zero = make("line", {x1: sx(0), x2: sx(0), y1: f.t, y2: f.b, stroke: "#c4c4c4", "stroke-width": 1.5}, g);
  
  

  const cloud = make("g", {fill: "#90b3dc", stroke: "#2079be", "stroke-width": f.dotW}, g);
  
  

  panelRows[i].forEach(function (row) {
    row[1].forEach(function (xv) {
      const dot = make("circle", {cx: sx(xv), cy: sy(row[0]), r: f.dotR, fill: "#2a7cbf"}, cloud);
      
      
    });
  });

  panelPoints[i].forEach(function (p) {
    const dot = make("circle", {cx: sx(p[0]), cy: sy(p[1]), r: f.dotR}, cloud);
    
    
  });

  const thr = make("line", {x1: f.lineL, x2: f.lineR, y1: sy(thresholds[i]), y2: sy(thresholds[i]), stroke: "#1a74ba", "stroke-width": 3}, g);
  
  
});
</script>
</body>
</html>
